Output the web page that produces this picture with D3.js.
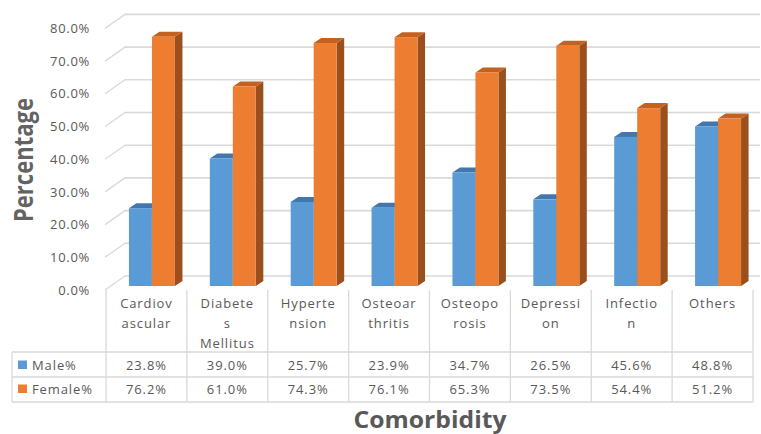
<!DOCTYPE html>
<html>
<head>
<meta charset="utf-8">
<script src="https://cdn.jsdelivr.net/npm/d3@7"></script>
<style>
  html, body { margin: 0; padding: 0; background: #fff; }
  svg { display: block; }
  text { font-family: "Open Sans", "Liberation Sans", sans-serif; fill: #595959; }
</style>
</head>
<body>
<svg id="chart" width="761" height="434"></svg>
<script>
// ---- Data ----
const categoryLines = [
  ["Cardiov", "ascular"],
  ["Diabete", "s", "Mellitus"],
  ["Hyperte", "nsion"],
  ["Osteoar", "thritis"],
  ["Osteopo", "rosis"],
  ["Depressi", "on"],
  ["Infectio", "n"],
  ["Others"]
];
const categories = ["Cardiovascular", "Diabetes Mellitus", "Hypertension", "Osteoarthritis",
                    "Osteoporosis", "Depression", "Infection", "Others"];
const seriesNames = ["Male%", "Female%"];
const maleValues   = [0.238, 0.390, 0.257, 0.239, 0.347, 0.265, 0.456, 0.488];
const femaleValues = [0.762, 0.610, 0.743, 0.761, 0.653, 0.735, 0.544, 0.512];
const yTicks = [0, 0.1, 0.2, 0.3, 0.4, 0.5, 0.6, 0.7, 0.8];

const svg = d3.select("#chart");
const fmt = d3.format(".1%");

// ---- Geometry ----
const tableLeft = 12, colLeft = 106, colRight = 753;
const x = d3.scaleBand().domain(categories).range([colLeft, colRight]);
const wallDX = 20, wallDY = -14;            // full depth offset of the 3D floor
const yFront = d3.scaleLinear().domain([0, 0.8]).range([290, 28.4]);
const yBack  = d3.scaleLinear().domain([0, 0.8]).range([290 + wallDY, 28.4 + wallDY]);
const yBar   = d3.scaleLinear().domain([0, 0.8]).range([286, 24.4]);
const barShift = 5.5, barW = 23, barDX = 7.5, barDY = -5;
const grid = "#d9d9d9";

// ---- Walls / gridlines ----
const g = svg.append("g");
yTicks.forEach(t => {
  g.append("line")
    .attr("x1", colLeft - 1 + wallDX - 0.5).attr("x2", 760)
    .attr("y1", yBack(t)).attr("y2", yBack(t))
    .attr("stroke", grid).attr("stroke-width", 1.6);
  g.append("line")
    .attr("x1", colLeft - 1).attr("y1", yFront(t))
    .attr("x2", colLeft - 1 + wallDX).attr("y2", yBack(t))
    .attr("stroke", grid).attr("stroke-width", 1.3);
});

// ---- Y tick labels ----
svg.append("g").selectAll("text").data(yTicks).join("text")
  .attr("x", 90).attr("y", d => yFront(d))
  .attr("dy", "0.36em")
  .attr("text-anchor", "end")
  .attr("font-size", 13)
  .attr("letter-spacing", 0.7)
  .text(d => fmt(d));

// ---- Bars ----
function bar(sel, x0, v, front, top, side, drawSide) {
  const yT = yBar(v), yB = yBar(0);
  if (drawSide) {
    sel.append("path")
      .attr("d", `M${x0 + barW},${yB} L${x0 + barW + barDX},${yB + barDY} L${x0 + barW + barDX},${yT + barDY} L${x0 + barW},${yT} Z`)
      .attr("fill", side);
  }
  sel.append("path")
    .attr("d", `M${x0},${yT} L${x0 + barDX},${yT + barDY} L${x0 + barW + barDX},${yT + barDY} L${x0 + barW},${yT} Z`)
    .attr("fill", top);
  sel.append("rect")
    .attr("x", x0).attr("y", yT).attr("width", barW).attr("height", yB - yT)
    .attr("fill", front);
}
const bars = svg.append("g");
categories.forEach((c, i) => {
  const cx = x(c) + x.bandwidth() / 2 + barShift;
  const gb = bars.append("g");
  bar(gb, cx - barW, maleValues[i], "#5b9bd5", "#4277ad", "#3b6890", true);
  bar(gb, cx, femaleValues[i], "#ed7d31", "#c3611f", "#9a4f1d", true);
});

// ---- Data table ----
const rowTop = 290, row1 = 352, row2 = 377, row3 = 402;
const tg = svg.append("g");
const bounds = [colLeft].concat(categories.map(c => x(c) + x.bandwidth()));
bounds.forEach(b => {
  tg.append("line").attr("x1", b).attr("x2", b).attr("y1", rowTop).attr("y2", row3)
    .attr("stroke", grid).attr("stroke-width", 1.3);
});
tg.append("line").attr("x1", tableLeft).attr("x2", tableLeft).attr("y1", row1).attr("y2", row3)
  .attr("stroke", grid).attr("stroke-width", 1.3);
[row1, row2, row3].forEach(r => {
  tg.append("line").attr("x1", tableLeft).attr("x2", colRight).attr("y1", r).attr("y2", r)
    .attr("stroke", grid).attr("stroke-width", 1.3);
});

// category labels
categories.forEach((c, i) => {
  const cx = x(c) + x.bandwidth() / 2;
  categoryLines[i].forEach((ln, j) => {
    tg.append("text")
      .attr("x", cx).attr("y", 303 + j * 20).attr("dy", "0.36em")
      .attr("text-anchor", "middle").attr("font-size", 13).attr("letter-spacing", 0.9)
      .text(ln);
  });
});
// series rows
const rows = [
  { name: seriesNames[0], vals: maleValues, color: "#5b9bd5", y: 365 },
  { name: seriesNames[1], vals: femaleValues, color: "#ed7d31", y: 389 }
];
rows.forEach(r => {
  tg.append("rect").attr("x", 18).attr("y", r.y - 4.5).attr("width", 9).attr("height", 8.5).attr("fill", r.color);
  tg.append("text").attr("x", 32).attr("y", r.y).attr("dy", "0.36em")
    .attr("font-size", 13).attr("letter-spacing", 0.9).text(r.name);
  r.vals.forEach((v, i) => {
    tg.append("text")
      .attr("x", x(categories[i]) + x.bandwidth() / 2).attr("y", r.y).attr("dy", "0.36em")
      .attr("text-anchor", "middle").attr("font-size", 13).attr("letter-spacing", 0.9)
      .text(fmt(v));
  });
});

// ---- Axis titles ----
svg.append("text")
  .attr("transform", "translate(33,160) rotate(-90)")
  .attr("text-anchor", "middle")
  .attr("font-size", 26).attr("font-weight", "bold")
  .attr("textLength", 124).attr("lengthAdjust", "spacingAndGlyphs")
  .attr("fill-opacity", 0.95)
  .text("Percentage");
svg.append("text")
  .attr("x", 430).attr("y", 428)
  .attr("text-anchor", "middle")
  .attr("font-size", 23).attr("font-weight", "bold")
  .attr("textLength", 153).attr("lengthAdjust", "spacingAndGlyphs")
  .text("Comorbidity");
</script>
</body>
</html>
